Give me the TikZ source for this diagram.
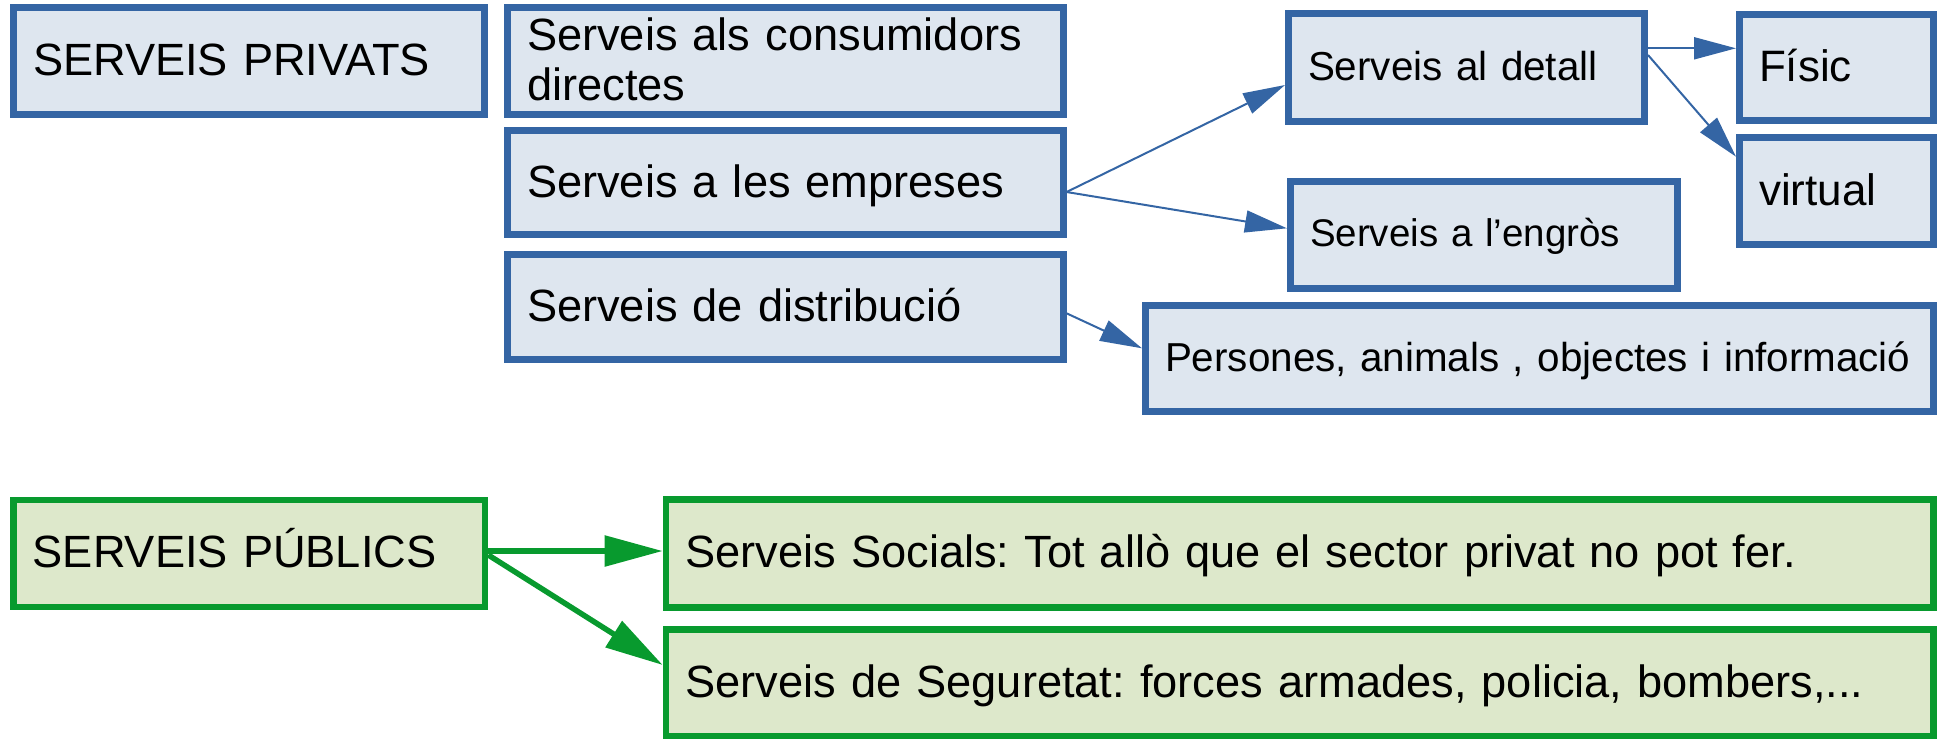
\documentclass[tikz,border=0pt]{standalone}
\usepackage{fontspec}
\setmainfont{Liberation Sans}
\usepackage{tikz}
\definecolor{privblue}{RGB}{52,101,164}
\definecolor{privfill}{RGB}{222,230,239}
\definecolor{pubgreen}{RGB}{8,154,46}
\definecolor{pubfill}{RGB}{221,232,203}
\usetikzlibrary{positioning,arrows.meta}
\AtBeginDocument{\frenchspacing}
\tikzset{%
  sector/.style={draw, rectangle, align=left, inner xsep=19.5pt, text height=29pt, text depth=0pt},
  privat/.style={sector, draw=privblue, fill=privfill, line width=7pt},% private service box
  public/.style={sector, draw=pubgreen, fill=pubfill, line width=6.5pt},% public service box
  boxsize/.style 2 args={minimum width=#1pt, text width=#1pt-39pt, minimum height=#2pt},% box size in px
  fontbig/.style={font=\fontsize{45.2}{50}\selectfont},
  fontfisic/.style={font=\fontsize{44}{50}\selectfont, text height=28pt},
  fontmid/.style={font=\fontsize{40.4}{46}\selectfont, text height=25pt},
  fontsmall/.style={font=\fontsize{38.5}{44}\selectfont, text height=23.5pt},
  privflow/.style={draw=privblue, line width=2pt, -{Triangle[length=42pt,width=22pt]}},% thin blue arrow
  pubflow/.style={draw=pubgreen, line width=5.5pt, -{Triangle[length=58pt,width=30pt]}}% thick green arrow
}

\begin{document}
\begin{tikzpicture}[x=1pt, y=-1pt]
\useasboundingbox (0,0) rectangle (1942,740);

% serveis privats
\node[privat, fontbig, boxsize={471}{107}]      (privats)   at (249, 61)      {SERVEIS PRIVATS};
\node[privat, fontbig, boxsize={555.5}{107}, text depth=50pt] (consum) at (785.3, 61) {Serveis als consumidors\\directes};
\node[privat, fontbig, boxsize={555.5}{104}]    (empreses)  at (785.3, 182.5) {Serveis a les empreses};
\node[privat, fontbig, boxsize={555.5}{105}]    (distrib)   at (785.3, 307)   {Serveis de distribució};
\node[privat, fontmid, boxsize={356}{108}]      (detall)    at (1466.5, 67.5) {Serveis al detall};
\node[privat, fontsmall, boxsize={387}{107}]    (engros)    at (1484, 235)    {Serveis a l’engròs};
\node[privat, fontfisic, boxsize={194}{106}]    (fisic)     at (1836.5, 67.5) {Físic};
\node[privat, fontfisic, boxsize={194}{107}]    (virtual)   at (1836.5, 191)  {virtual};
\node[privat, fontmid, boxsize={788}{106}]      (persones)  at (1539.5, 358.5) {\mbox{Persones, animals , objectes i informació}};

% serveis publics
\node[public, fontbig, boxsize={471.7}{107}]    (publics)   at (249.2, 553.3)  {SERVEIS PÚBLICS};
\node[public, fontbig, boxsize={1267.5}{108}]   (socials)   at (1299.7, 553.3) {Serveis Socials: Tot allò que el sector privat no pot fer.};
\node[public, fontbig, boxsize={1267.5}{106.5}] (seguretat) at (1299.7, 682.5) {Serveis de Seguretat: forces armades, policia, bombers,...};

\draw[privflow] ([yshift=-9.5pt]empreses.east) -- ([yshift=-17.5pt]detall.west);
\draw[privflow] ([yshift=-9.5pt]empreses.east) -- ([yshift=6.7pt]engros.west);
\draw[privflow] ([yshift=-6.3pt]distrib.east)  -- ([yshift=10.2pt]persones.west);
\draw[privflow] ([yshift=19.2pt]detall.east)   -- ([yshift=19.2pt]fisic.west);
\draw[privflow] ([yshift=12.5pt]detall.east)   -- ([yshift=34.3pt]virtual.west);

\draw[pubflow] ([yshift=2.3pt]publics.east)  -- ([yshift=2.3pt]socials.west);
\draw[pubflow] ([yshift=-1.7pt]publics.east) -- ([yshift=17.5pt]seguretat.west);

\end{tikzpicture}
\end{document}
